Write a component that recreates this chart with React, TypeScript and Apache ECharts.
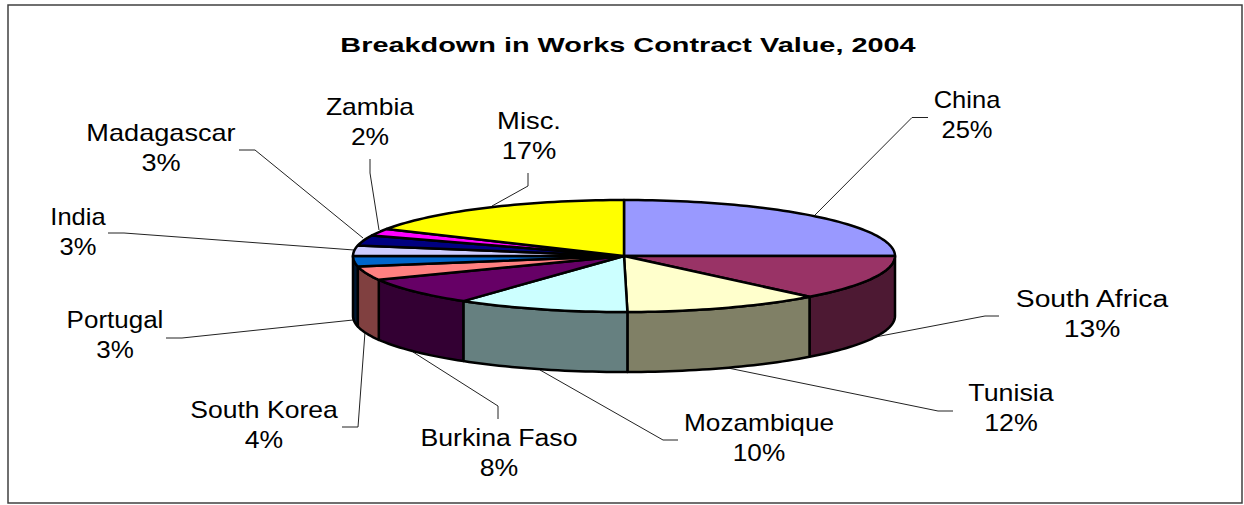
import React, { useEffect, useRef } from "react";
import * as echarts from "echarts";

const titleText = "Breakdown in Works Contract Value, 2004";
const categories = ["China", "South Africa", "Tunisia", "Mozambique", "Burkina Faso", "South Korea", "Portugal", "India", "Madagascar", "Zambia", "Misc."];
const shares = [25, 13, 11.8, 10.3, 7.9, 4, 3, 3, 3, 2, 17];
const percentLabels = ["25%", "13%", "12%", "10%", "8%", "4%", "3%", "3%", "3%", "2%", "17%"];
const topColors = ["#9999ff", "#993366", "#ffffcc", "#ccffff", "#660066", "#ff8080", "#0066cc", "#ccccff", "#000080", "#ff00ff", "#ffff00"];
const wallColors = ["#4d4d80", "#4d1933", "#808066", "#668080", "#330033", "#804040", "#001933", "#666680", "#000040", "#800080", "#808000"];

// layout
const CX = 624, CY = 256, RX = 271, RY = 56, DEPTH = 60;
const labelCenters = [[967, 115], [1092, 314], [1011, 408], [759, 438], [499, 453], [264, 425], [115, 335], [78, 232], [161, 148], [370, 122], [529, 136]];
const labelStretch = [1.11, 1.23, 1.165, 1.14, 1.16, 1.155, 1.13, 1.11, 1.18, 1.15, 1.19];
const leaderPaths = [
  [[928, 117.5], [912, 117.5], [815, 215]],
  [[999, 316], [985, 316], [870, 338]],
  [[953, 411], [938, 411], [728, 368]],
  [[678, 440], [663, 440], [540, 370]],
  [[498, 419], [498, 406], [413, 352]],
  [[342, 427], [358, 427], [365, 332]],
  [[166, 338], [182, 338], [353, 320]],
  [[108, 233], [124, 233], [354, 250]],
  [[239, 150], [255, 150], [363, 238]],
  [[370, 159], [370, 173], [379, 230]],
  [[528, 173], [528, 186], [492, 206]],
];

const total = shares.reduce((a, b) => a + b, 0);
const range = (i: number) => {
  const before = shares.slice(0, i).reduce((a, b) => a + b, 0);
  return [(before / total) * 360, ((before + shares[i]) / total) * 360];
};
const rim = (deg: number, dy = 0) => {
  const r = (deg * Math.PI) / 180;
  return [CX + RX * Math.sin(r), CY - RY * Math.cos(r) + dy];
};
const arc = (a: number, b: number, dy = 0) => {
  const n = Math.max(2, Math.ceil(Math.abs(b - a) / 1.5));
  const pts = [];
  for (let k = 0; k <= n; k++) pts.push(rim(a + ((b - a) * k) / n, dy));
  return pts;
};
const EDGE = { stroke: "#000000", lineWidth: 2.5, lineJoin: "round" };

export default function App() {
  const ref = useRef<HTMLDivElement>(null);
  useEffect(() => {
    const chart = echarts.init(ref.current!, null, { renderer: "svg" });
    const graphicEls: any[] = [
      { type: "rect", shape: { x: 8, y: 5, width: 1234, height: 498 }, style: { fill: "none", stroke: "#404040", lineWidth: 1.5 }, silent: true },
      {
        type: "text", x: 628, y: 45, scaleX: 1.375,
        style: { text: titleText, font: "bold 21px 'Liberation Sans'", fill: "#000", textAlign: "center", textVerticalAlign: "middle" },
      },
    ];
    leaderPaths.forEach((p) => {
      graphicEls.push({ type: "polyline", shape: { points: p }, style: { stroke: "#222222", lineWidth: 1, fill: "none" }, silent: true });
    });
    categories.forEach((c, i) => {
      graphicEls.push({
        type: "text", x: labelCenters[i][0], y: labelCenters[i][1], scaleX: labelStretch[i],
        style: { text: c + "\n" + percentLabels[i], font: "23px 'Liberation Sans'", lineHeight: 30, fill: "#000", textAlign: "center", textVerticalAlign: "middle" },
      });
    });
    chart.setOption({
      animation: false,
      backgroundColor: "#ffffff",
      graphic: { elements: graphicEls },
      series: [
        {
          type: "custom", coordinateSystem: "none", silent: true, z: 1,
          data: shares,
          renderItem: (params: any) => {
            const i = params.dataIndex;
            const [a0, a1] = range(i);
            const a = Math.max(a0, 90), b = Math.min(a1, 270);
            if (b <= a) return { type: "group", children: [] };
            const pts = [...arc(a, b), ...arc(a, b, DEPTH).reverse()];
            return { type: "polygon", shape: { points: pts }, style: { fill: wallColors[i], ...EDGE } };
          },
        },
        {
          type: "custom", coordinateSystem: "none", silent: true, z: 2,
          data: shares,
          renderItem: (params: any) => {
            const i = params.dataIndex;
            const [a0, a1] = range(i);
            const pts = [[CX, CY], ...arc(a0, a1)];
            return { type: "polygon", shape: { points: pts }, style: { fill: topColors[i], ...EDGE } };
          },
        },
      ],
    });
    return () => chart.dispose();
  }, []);
  return <div ref={ref} style={{ position: "absolute", left: 0, top: 0, width: 1244, height: 505 }} />;
}
